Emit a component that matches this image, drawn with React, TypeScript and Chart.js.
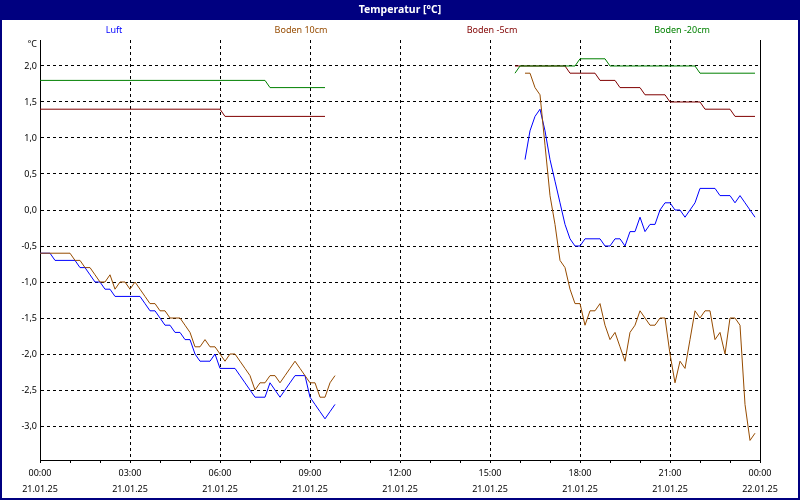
import React, { useEffect, useRef } from 'react';
import { Chart, registerables } from 'chart.js';

Chart.register(...registerables);

// time axis: 10-minute samples from 21.01.25 00:00 (0 h) to 22.01.25 00:00 (24 h)
const sampleHours = Array.from({ length: 145 }, (_, i) => i / 6);

const titleText = 'Temperatur [°C]';
const unitText = '°C';
const xTimeLabels = ['00:00', '03:00', '06:00', '09:00', '12:00', '15:00', '18:00', '21:00', '00:00'];
const xDateLabels = ['21.01.25', '21.01.25', '21.01.25', '21.01.25', '21.01.25', '21.01.25', '21.01.25', '21.01.25', '22.01.25'];
const yTickValues = [-3, -2.5, -2, -1.5, -1, -0.5, 0, 0.5, 1, 1.5, 2];

const seriesNames = ['Luft', 'Boden 10cm', 'Boden -5cm', 'Boden -20cm'];
const seriesColors = ['#0000ff', '#964b00', '#800000', '#008000'];

// Luft
const luftMorningStart = 0;
const luftMorning = [
  -0.6, -0.6, -0.6, -0.7, -0.7, -0.7, -0.7, -0.7, -0.8, -0.8,
  -0.9, -1.0, -1.0, -1.1, -1.1, -1.2, -1.2, -1.2, -1.2, -1.2,
  -1.2, -1.3, -1.4, -1.4, -1.5, -1.6, -1.6, -1.7, -1.7, -1.8,
  -1.8, -2.0, -2.1, -2.1, -2.1, -2.0, -2.2, -2.2, -2.2, -2.2,
  -2.3, -2.4, -2.5, -2.6, -2.6, -2.6, -2.4, -2.5, -2.6, -2.5,
  -2.4, -2.3, -2.3, -2.3, -2.6, -2.7, -2.8, -2.9, -2.8, -2.7,
];
const luftEveningStart = 97;
const luftEvening = [
  0.7, 1.1, 1.3, 1.4, 1.1, 0.7, 0.4, 0.1, -0.2, -0.4,
  -0.5, -0.5, -0.4, -0.4, -0.4, -0.4, -0.5, -0.5, -0.4, -0.4,
  -0.5, -0.3, -0.3, -0.1, -0.3, -0.2, -0.2, 0.0, 0.1, 0.1,
  0.0, 0.0, -0.1, 0.0, 0.1, 0.3, 0.3, 0.3, 0.3, 0.2,
  0.2, 0.2, 0.1, 0.2, 0.1, 0.0, -0.1,
];

// Boden 10cm
const boden10MorningStart = 0;
const boden10Morning = [
  -0.6, -0.6, -0.6, -0.6, -0.6, -0.6, -0.6, -0.7, -0.7, -0.8,
  -0.8, -0.9, -1.0, -1.0, -0.9, -1.1, -1.0, -1.0, -1.1, -1.0,
  -1.1, -1.2, -1.3, -1.3, -1.4, -1.4, -1.5, -1.5, -1.5, -1.6,
  -1.7, -1.9, -1.9, -1.8, -1.9, -1.9, -2.0, -2.1, -2.0, -2.0,
  -2.1, -2.2, -2.3, -2.5, -2.4, -2.4, -2.3, -2.3, -2.4, -2.3,
  -2.2, -2.1, -2.2, -2.3, -2.4, -2.4, -2.6, -2.6, -2.4, -2.3,
];
const boden10EveningStart = 97;
const boden10Evening = [
  1.9, 1.9, 1.7, 1.6, 0.9, 0.2, -0.2, -0.7, -0.8, -1.1,
  -1.3, -1.3, -1.6, -1.4, -1.4, -1.3, -1.6, -1.8, -1.7, -1.9,
  -2.1, -1.7, -1.6, -1.4, -1.5, -1.6, -1.6, -1.5, -1.5, -2.0,
  -2.4, -2.1, -2.2, -1.8, -1.4, -1.5, -1.4, -1.4, -1.8, -1.7,
  -2.0, -1.5, -1.5, -1.6, -2.7, -3.2, -3.1,
];

// Boden -5cm
const boden5MorningStart = 0;
const boden5Morning = [
  1.4, 1.4, 1.4, 1.4, 1.4, 1.4, 1.4, 1.4, 1.4, 1.4,
  1.4, 1.4, 1.4, 1.4, 1.4, 1.4, 1.4, 1.4, 1.4, 1.4,
  1.4, 1.4, 1.4, 1.4, 1.4, 1.4, 1.4, 1.4, 1.4, 1.4,
  1.4, 1.4, 1.4, 1.4, 1.4, 1.4, 1.4, 1.3, 1.3, 1.3,
  1.3, 1.3, 1.3, 1.3, 1.3, 1.3, 1.3, 1.3, 1.3, 1.3,
  1.3, 1.3, 1.3, 1.3, 1.3, 1.3, 1.3, 1.3,
];
const boden5EveningStart = 95;
const boden5Evening = [
  2.0, 2.0, 2.0, 2.0, 2.0, 2.0, 2.0, 2.0, 2.0, 2.0,
  2.0, 1.9, 1.9, 1.9, 1.9, 1.9, 1.9, 1.8, 1.8, 1.8,
  1.8, 1.7, 1.7, 1.7, 1.7, 1.7, 1.6, 1.6, 1.6, 1.6,
  1.6, 1.5, 1.5, 1.5, 1.5, 1.5, 1.5, 1.5, 1.4, 1.4,
  1.4, 1.4, 1.4, 1.4, 1.3, 1.3, 1.3, 1.3, 1.3,
];

// Boden -20cm
const boden20MorningStart = 0;
const boden20Morning = [
  1.8, 1.8, 1.8, 1.8, 1.8, 1.8, 1.8, 1.8, 1.8, 1.8,
  1.8, 1.8, 1.8, 1.8, 1.8, 1.8, 1.8, 1.8, 1.8, 1.8,
  1.8, 1.8, 1.8, 1.8, 1.8, 1.8, 1.8, 1.8, 1.8, 1.8,
  1.8, 1.8, 1.8, 1.8, 1.8, 1.8, 1.8, 1.8, 1.8, 1.8,
  1.8, 1.8, 1.8, 1.8, 1.8, 1.8, 1.7, 1.7, 1.7, 1.7,
  1.7, 1.7, 1.7, 1.7, 1.7, 1.7, 1.7, 1.7,
];
const boden20EveningStart = 95;
const boden20Evening = [
  1.9, 2.0, 2.0, 2.0, 2.0, 2.0, 2.0, 2.0, 2.0, 2.0,
  2.0, 2.0, 2.0, 2.1, 2.1, 2.1, 2.1, 2.1, 2.1, 2.0,
  2.0, 2.0, 2.0, 2.0, 2.0, 2.0, 2.0, 2.0, 2.0, 2.0,
  2.0, 2.0, 2.0, 2.0, 2.0, 2.0, 2.0, 1.9, 1.9, 1.9,
  1.9, 1.9, 1.9, 1.9, 1.9, 1.9, 1.9, 1.9, 1.9,
];

function placeSegments(segments: [number, number[]][]): (number | null)[] {
  const out: (number | null)[] = sampleHours.map(() => null);
  segments.forEach(([start, values]) => {
    values.forEach((v, k) => {
      out[start + k] = v;
    });
  });
  return out;
}

const Y_MIN = -3.472;
const Y_MAX = 2.361;
const FONT = '"Noto Sans", "DejaVu Sans", sans-serif';
const legendCenters = [114, 301, 492, 682];

const framePlugin = {
  id: 'framePlugin',
  beforeDraw(chart: any) {
    const { ctx, width, height } = chart;
    ctx.save();
    ctx.fillStyle = '#ffffff';
    ctx.fillRect(0, 0, width, height);
    ctx.fillStyle = '#000080';
    ctx.fillRect(0, 0, width, 20);
    ctx.fillRect(0, 0, 2, height);
    ctx.fillRect(width - 2, 0, 2, height);
    ctx.fillRect(0, height - 2, width, 2);
    ctx.restore();
  },
  afterDraw(chart: any) {
    const { ctx, chartArea, width } = chart;
    ctx.save();
    ctx.strokeStyle = '#000000';
    ctx.lineWidth = 1;
    ctx.beginPath();
    ctx.moveTo(chartArea.right + 0.5, chartArea.top);
    ctx.lineTo(chartArea.right + 0.5, chartArea.bottom + 1);
    ctx.stroke();

    ctx.textAlign = 'center';
    ctx.textBaseline = 'middle';
    ctx.fillStyle = '#ffffff';
    ctx.font = 'bold 10.5px ' + FONT;
    ctx.fillText(titleText, width / 2, 10);

    ctx.font = '9px ' + FONT;
    chart.data.datasets.forEach((ds: any, i: number) => {
      ctx.fillStyle = ds.borderColor;
      ctx.fillText(ds.label, legendCenters[i], 30);
    });

    ctx.fillStyle = '#000000';
    ctx.textAlign = 'right';
    ctx.fillText(unitText, chartArea.left - 3, chartArea.top + 4);
    ctx.restore();
  },
};

export default function App() {
  const canvasRef = useRef<HTMLCanvasElement | null>(null);

  useEffect(() => {
    const canvas = canvasRef.current;
    if (!canvas) return;
    const seriesData = [
      placeSegments([[luftMorningStart, luftMorning], [luftEveningStart, luftEvening]]),
      placeSegments([[boden10MorningStart, boden10Morning], [boden10EveningStart, boden10Evening]]),
      placeSegments([[boden5MorningStart, boden5Morning], [boden5EveningStart, boden5Evening]]),
      placeSegments([[boden20MorningStart, boden20Morning], [boden20EveningStart, boden20Evening]]),
    ];
    const drawOrder = [1, 0, 3, 2];
    const chart = new Chart(canvas, {
      type: 'line',
      data: {
        labels: sampleHours,
        datasets: seriesNames.map((name, i) => ({
          label: name,
          data: seriesData[i],
          borderColor: seriesColors[i],
          backgroundColor: seriesColors[i],
          borderWidth: 1,
          pointRadius: 0,
          tension: 0,
          spanGaps: false,
          fill: false,
          order: drawOrder[i],
        })),
      },
      options: {
        animation: false,
        responsive: false,
        devicePixelRatio: 1,
        layout: { padding: { top: 40, right: 40, left: 0, bottom: 0 } },
        plugins: {
          legend: { display: false },
          title: { display: false },
          tooltip: { enabled: false },
        },
        scales: {
          x: {
            type: 'linear',
            min: 0,
            max: 24,
            afterFit: (s: any) => {
              s.height = 40;
            },
            afterBuildTicks: (s: any) => {
              s.ticks = Array.from({ length: 25 }, (_, h) => ({ value: h }));
            },
            ticks: {
              autoSkip: false,
              maxRotation: 0,
              minRotation: 0,
              padding: 2,
              color: '#000000',
              font: { family: FONT, size: 9, lineHeight: 16 / 9 },
              callback: (v: any) => {
                const h = Number(v);
                if (h % 3 !== 0) return '';
                const k = h / 3;
                return [xTimeLabels[k], xDateLabels[k]];
              },
            },
            grid: {
              color: (ctx: any) => {
                const h = ctx.tick ? ctx.tick.value : -1;
                return h % 3 === 0 && h > 0 && h < 24 ? '#000000' : 'rgba(0,0,0,0)';
              },
              tickColor: '#000000',
              tickLength: 3,
              drawTicks: true,
              lineWidth: 1,
            },
            border: { display: true, color: '#000000', width: 1, dash: [3, 3] },
          },
          y: {
            type: 'linear',
            min: Y_MIN,
            max: Y_MAX,
            afterFit: (s: any) => {
              s.width = 40;
            },
            afterBuildTicks: (s: any) => {
              s.ticks = yTickValues.map((v) => ({ value: v }));
            },
            ticks: {
              padding: 3,
              color: '#000000',
              font: { family: FONT, size: 9 },
              callback: (v: any) => Number(v).toFixed(1).replace('.', ','),
            },
            grid: {
              color: '#000000',
              drawTicks: false,
              lineWidth: 1,
            },
            border: { display: true, color: '#000000', width: 1, dash: [3, 3] },
          },
        },
      },
      plugins: [framePlugin],
    } as any);
    return () => {
      chart.destroy();
    };
  }, []);

  return (
    <div style={{ position: 'absolute', left: 0, top: 0, width: 800, height: 500 }}>
      <canvas ref={canvasRef} width={800} height={500} style={{ display: 'block' }} />
    </div>
  );
}
